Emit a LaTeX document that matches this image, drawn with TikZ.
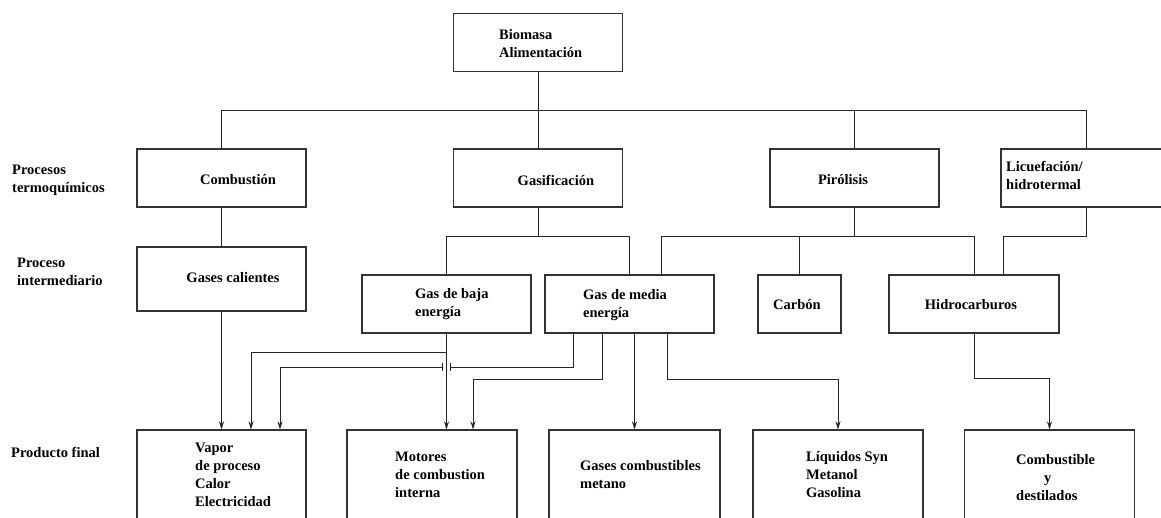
\documentclass[tikz,border=0pt]{standalone}
\usepackage{fontspec}
\setmainfont{Liberation Serif}
\usetikzlibrary{arrows.meta,positioning}

\begin{document}
\begin{tikzpicture}[x=1pt,y=-1pt,
    font=\fontsize{14.5}{18}\selectfont\bfseries,
    box/.style={rectangle, draw=black!80, line width=1.1pt, minimum width=169pt, minimum height=58pt, inner sep=0pt},
    txt/.style={inner sep=0pt, align=left, anchor=west},
    wire/.style={draw=black!85, line width=.9pt},
    flow/.style={wire, ->, >={Stealth[length=8pt,width=5pt]}},
    hop/.style={wire, -{Bar[width=8pt]}}
]
    \useasboundingbox (0,0) rectangle (1161,518);
    \clip (0,0) rectangle (1161,518);
    \fill[white] (0,0) rectangle (1161,518);

    % level labels
    \node[txt] (lthermo) at (12,180) {Procesos\\termoquímicos};
    \node[txt] (linter) at (17,272) {Proceso\\intermediario};
    \node[txt] (lfinal) at (11,452) {Producto final};

    % feedstock
    \node[box] (bio) at (538,42.5) {};
    \node[txt] (biot) at (499,44) {Biomasa\\Alimentación};

    % thermochemical processes
    \node[box] (comb) at (221.5,178) {};
    \node[inner sep=0pt] (combt) at (238,180) {Combustión};
    \node[box] (gasif) at (538,178) {};
    \node[inner sep=0pt] (gasift) at (556,180) {Gasificación};
    \node[box] (piro) at (854.5,178) {};
    \node[inner sep=0pt] (pirot) at (843,180) {Pirólisis};
    \node[box, minimum width=170pt] (licue) at (1086,178) {};
    \node[txt] (licuet) at (1006,175) {Licuefación/\\hidrotermal};

    % intermediate
    \node[box, minimum height=64pt] (calientes) at (221.5,279) {};
    \node[inner sep=0pt] (calientest) at (233,278) {Gases calientes};
    \node[box] (baja) at (446.5,304) {};
    \node[txt] (bajat) at (415,304) {Gas de baja\\energía};
    \node[box] (media) at (629.5,304) {};
    \node[txt] (mediat) at (583,305.5) {Gas de media\\energía};
    \node[box, minimum width=83pt] (carbon) at (799.5,304) {};
    \node[inner sep=0pt] (carbont) at (797,305) {Carbón};
    \node[box, minimum width=170pt] (hidro) at (974,304) {};
    \node[inner sep=0pt] (hidrot) at (971,305) {Hidrocarburos};

    % final products
    \node[box, minimum height=110pt] (vapor) at (221.5,485) {};
    \node[txt] (vaport) at (195,475) {Vapor\\de proceso\\Calor\\Electricidad};
    \node[box, minimum width=170pt, minimum height=110pt] (motores) at (432,485) {};
    \node[txt] (motorest) at (395,475) {Motores\\de combustion\\interna};
    \node[box, minimum width=171pt, minimum height=110pt] (gcomb) at (634.5,485) {};
    \node[txt] (gcombt) at (580,474.5) {Gases combustibles\\metano};
    \node[box, minimum width=170pt, minimum height=110pt] (liquidos) at (838,485) {};
    \node[txt] (liquidost) at (806,474.5) {Líquidos Syn\\Metanol\\Gasolina};
    \node[box, minimum width=170pt, minimum height=110pt] (combus) at (1049.5,485) {};
    \node[txt] (combust) at (1016,478) {Combustible\\\hspace*{28pt}y\\destilados};

    \coordinate (bus) at (0,110);
    \coordinate (split) at (0,236);
    \coordinate (hopL) at (443,367);
    \coordinate (hopR) at (450,367);

    % tree
    \draw[wire] (bio.south) -- (gasif.north);
    \draw[wire] (comb.north) |- (bus -| licue.north) -- (licue.north);
    \draw[wire] (piro.north) -- (piro.north |- bus);
    \draw[wire] (comb.south) -- (calientes.north);
    \draw[wire] (gasif.south) -- (gasif.south |- split);
    \draw[wire] (baja.north) |- (split -| media.north) -- (media.north);
    \draw[wire] (piro.south) -- (piro.south |- split);
    \draw[wire] ([xshift=31.5pt]media.north) |- (split -| hidro.north) -- (hidro.north);
    \draw[wire] (carbon.north) -- (carbon.north |- split);
    \draw[wire] (licue.south) -- ++(0,29) -| ([xshift=29pt]hidro.north);

    % to products
    \draw[flow] (calientes.south) -- (vapor.north);
    \draw[flow] (baja.south) -- (baja.south |- motores.north);
    \draw[flow] (baja.south) -- ++(0,19) -| ([xshift=29.5pt]vapor.north);
    \draw[hop] ([xshift=-56.5pt]media.south) |- (hopR);
    \draw[flow, {Bar[width=8pt]}->] (hopL) -| ([xshift=58.5pt]vapor.north);
    \draw[flow] ([xshift=-27.5pt]media.south) -- ++(0,46) -| ([xshift=41pt]motores.north);
    \draw[flow] (gcomb.north |- media.south) -- (gcomb.north);
    \draw[flow] ([xshift=37.5pt]media.south) -- ++(0,46) -| (liquidos.north);
    \draw[flow] (hidro.south) -- ++(0,45) -| (combus.north);

\end{tikzpicture}
\end{document}
